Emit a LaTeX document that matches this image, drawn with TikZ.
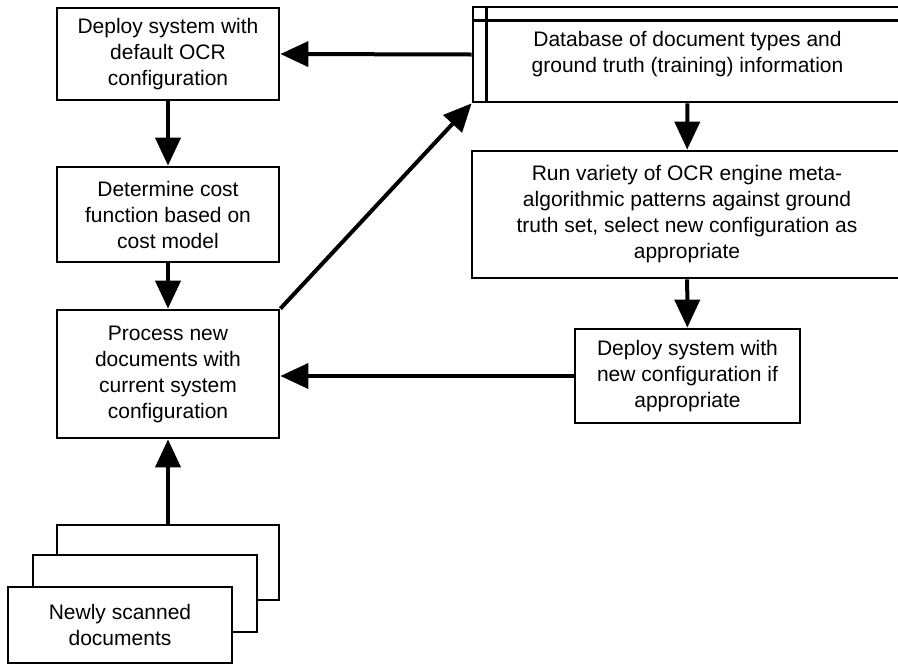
\documentclass[tikz,border=0pt]{standalone}
\usepackage{fontspec}
\setmainfont{Liberation Sans}
\usetikzlibrary{arrows.meta}

\begin{document}
\begin{tikzpicture}[x=0.5pt,y=-0.5pt,
    box/.style={draw, line width=1.4pt, inner sep=0pt, align=center,
        font=\fontsize{10.5}{13}\selectfont},
    flow/.style={line width=2pt, -{Triangle[length=14pt,width=12.5pt]}}]
    \clip (0,0) rectangle (898,665);

    % left column
    \node[box, minimum width=111pt, minimum height=46pt] (deploy) at (168,54)
        {Deploy system with\\default OCR\\configuration};
    \node[box, minimum width=111pt, minimum height=47.5pt] (cost) at (168,214.5)
        {Determine cost\\function based on\\cost model};
    \node[box, minimum width=111pt, minimum height=64pt] (process) at (168,374)
        {Process new\\documents with\\current system\\configuration};

    % stack of scanned pages
    \node[box, minimum width=111pt, minimum height=37.5pt] (page3) at (168,562.5) {};
    \node[box, fill=white, minimum width=112pt, minimum height=38.5pt] (page2) at (145,593.5) {};
    \node[box, fill=white, minimum width=112pt, minimum height=38pt] (page1) at (120,625)
        {Newly scanned\\documents};

    % right column, cut off at the page edge
    \node[box, minimum width=214.5pt, minimum height=47.5pt] (db) at (687.5,54.5)
        {Database of document types and\\ground truth (training) information};
    \draw[line width=1.4pt] ([xshift=7.5pt]db.north west) -- ([xshift=7.5pt]db.south west);
    \draw[line width=1.4pt] ([yshift=-7.5pt]db.north west) -- ([yshift=-7.5pt]db.north east);
    \node[box, minimum width=215pt, minimum height=63.5pt] (run) at (687,214.5)
        {Run variety of OCR engine meta-\\algorithmic patterns against ground\\truth set, select new configuration as\\appropriate};
    \node[box, minimum width=112.5pt, minimum height=47pt] (newcfg) at (687.5,376)
        {Deploy system with\\new configuration if\\appropriate};

    % arrows
    \draw[flow] (deploy) -- (cost);
    \draw[flow] (cost) -- (process);
    \draw[flow] (page3) -- (process);
    \draw[flow] (process.north east) -- (db.south west);
    \draw[flow] (db.west) -- (deploy.east);
    \draw[flow] (db) -- (run);
    \draw[flow] (run) -- (newcfg);
    \draw[flow] (newcfg.west) -- (newcfg.west -| process.east);
\end{tikzpicture}
\end{document}
